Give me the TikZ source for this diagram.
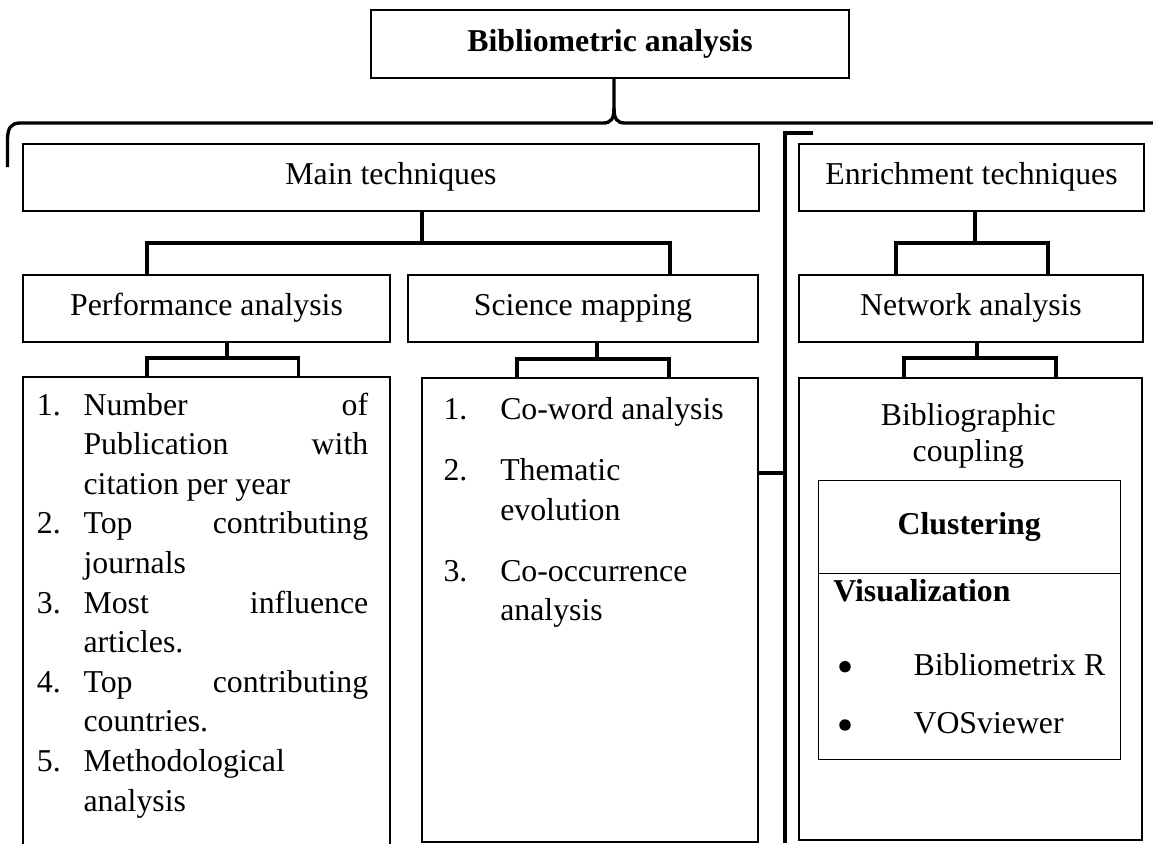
\documentclass[tikz,border=0pt]{standalone}
\usepackage{fontspec}
\setmainfont{Liberation Serif}
\usetikzlibrary{calc}
\newcommand{\jline}[1]{\makebox[213.5pt][s]{#1}}

\begin{document}
\begin{tikzpicture}[x=0.75pt,y=0.75pt,yscale=-1,xscale=1,
    txt/.style={font=\fontsize{23.85}{29.7}\selectfont, inner sep=0pt},
    box/.style={draw, line width=1.5pt, inner sep=0pt, outer sep=0pt, text height=16.5pt, text depth=5.7pt, txt},
    thinbox/.style={box, line width=0.75pt},
    dot/.style={circle, fill, inner sep=0pt, minimum size=8.6pt},
    conn/.style={line width=2.8pt},
    brace/.style={line width=2.5pt}]
    \useasboundingbox (0,0) rectangle (1153,843);

    \node [box, minimum width=358.5pt, minimum height=51pt] (top) at (610,44) {\textbf{Bibliometric analysis}};

    \node [box, minimum width=552pt, minimum height=50.25pt] (main) at (391,177.5) {Main techniques};
    \node [box, minimum width=258.75pt, minimum height=50.25pt] (enr) at (971.5,177.5) {Enrichment techniques};

    \node [box, minimum width=275.25pt, minimum height=50.25pt] (perf) at (206.5,308.5) {Performance analysis};
    \node [box, minimum width=262.5pt, minimum height=50.25pt] (sci) at (583,308.5) {Science mapping};
    \node [box, minimum width=258pt, minimum height=50.25pt] (net) at (971,308.5) {Network analysis};

    \node [box, minimum width=275.25pt, minimum height=357pt] (perflist) at (206.5,615) {};
    \node [box, minimum width=252pt, minimum height=348pt] (scilist) at (590,610) {};
    \node [box, minimum width=257.25pt, minimum height=346.5pt] (netlist) at (970.5,609) {};

    \node [thinbox, minimum width=226.3pt, minimum height=70pt] (clust) at (969.2,527.3) {\textbf{Clustering}};
    \node [thinbox, minimum width=226.3pt, minimum height=139.5pt, anchor=north] (viz) at (clust.south) {};

    % performance analysis list
    \foreach \n/\l in {1/0,2/3,3/5,4/7,5/9}
      \node [txt, anchor=base west] (pn\n) at (36.7,415+39.6*\l) {\n.};
    \foreach \t [count=\i from 0] in {\jline{Number of}, \jline{Publication with}, citation per year, \jline{Top contributing}, journals, \jline{Most influence}, articles., \jline{Top contributing}, countries., Methodological, analysis}
      \node [txt, anchor=base west] (pl\i) at (83.3,415+39.6*\i) {\t};

    % science mapping list
    \foreach \n/\y in {1/419.3,2/480,3/581.7}
      \node [txt, anchor=base west] (sn\n) at (443.3,\y) {\n.};
    \foreach \t/\y [count=\i] in {Co-word analysis/419.3, Thematic/480, evolution/520, Co-occurrence/581.7, analysis/620}
      \node [txt, anchor=base west] (sl\i) at (500,\y) {\t};

    % network analysis content
    \node [txt, anchor=base] (bib1) at (968.3,425) {Bibliographic};
    \node [txt, anchor=base] (bib2) at (968.3,461.7) {coupling};
    \node [txt, anchor=base west] (vis) at (833,601.7) {\textbf{Visualization}};
    \foreach \t/\y [count=\i] in {Bibliometrix R/675, VOSviewer/733.3} {
      \node [dot] (bul\i) at (845,\y-8.3) {};
      \node [txt, anchor=base west] (tool\i) at (913.3,\y) {\t};
    }

    % brace under the title
    \coordinate (braceL) at (7.5,167);
    \coordinate (braceR) at (1153,123);
    \draw [brace] ($(top.south)+(4,0)$) -- (614,108) .. controls (614,119) and (611,123) .. (603,123) -- (20,123) .. controls (11,123) and (7.5,128) .. (7.5,140) -- (braceL);
    \draw [brace] (614,108) .. controls (614,119) and (617,123) .. (625,123) -- (braceR);

    % rail on the right of science mapping
    \coordinate (hook) at (813,133);
    \coordinate (railtop) at (785,133);
    \coordinate (railend) at (785,843);
    \draw [brace] (hook) -- (railtop) -- (railend);
    \coordinate (sj) at ($(scilist.north east)+(0,95)$);
    \draw [conn] (sj) -- (sj -| railtop);

    % forks
    \draw [conn] ($(main.south)+(31,0)$) -- ++(0,32);
    \draw [conn] ($(perf.north)+(-59.5,0)$) |- ($(sci.north)+(87,-32)$) -- ($(sci.north)+(87,0)$);
    \draw [conn] ($(enr.south)+(3.5,0)$) -- ++(0,32);
    \draw [conn] ($(net.north)+(-75,0)$) |- ($(net.north)+(77,-32)$) -- ($(net.north)+(77,0)$);
    \draw [conn] ($(perf.south)+(20.5,0)$) -- ++(0,16);
    \draw [conn] ($(perflist.north)+(-59.5,0)$) |- ($(perflist.north)+(92,-19)$) -- ($(perflist.north)+(92,0)$);
    \draw [conn] ($(sci.south)+(14,0)$) -- ++(0,17);
    \draw [conn] ($(scilist.north)+(-73,0)$) |- ($(scilist.north)+(79,-19)$) -- ($(scilist.north)+(79,0)$);
    \draw [conn] ($(net.south)+(6,0)$) -- ++(0,16);
    \draw [conn] ($(netlist.north)+(-66.5,0)$) |- ($(netlist.north)+(85.5,-20)$) -- ($(netlist.north)+(85.5,0)$);
\end{tikzpicture}
\end{document}
